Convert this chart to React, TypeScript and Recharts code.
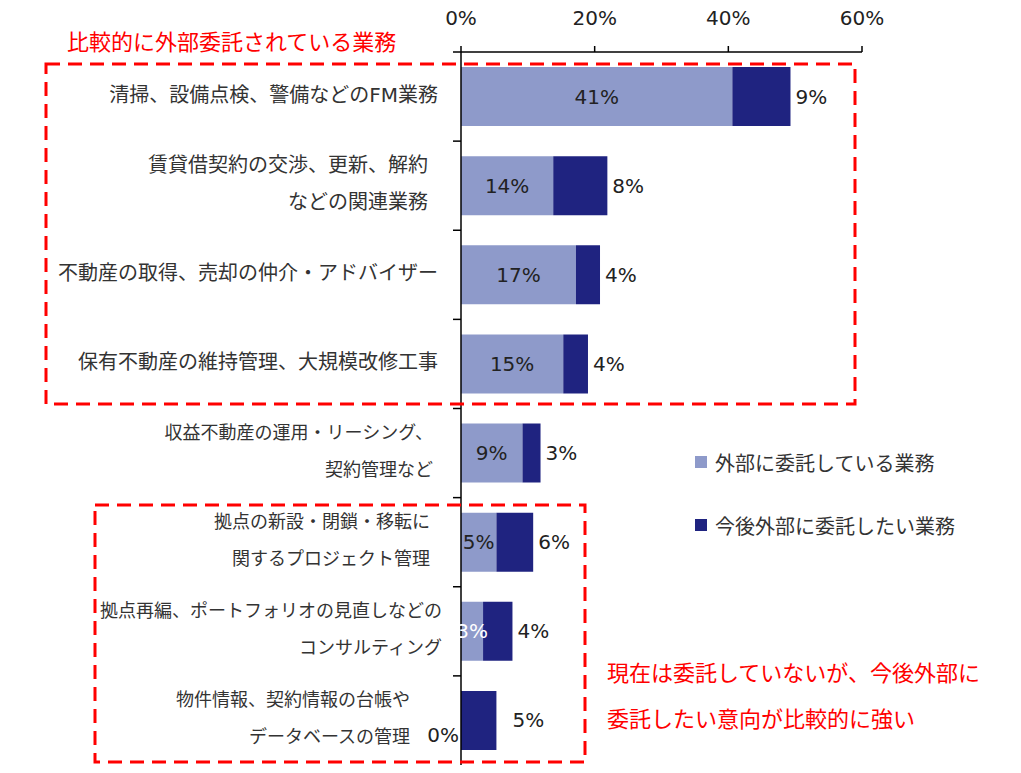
import React from "react";
import { BarChart, Bar, XAxis, YAxis, LabelList } from "recharts";

// row labels (line breaks as in the original)
const categories: string[][] = [
  ["清掃、設備点検、警備などのFM業務"],
  ["賃貸借契約の交渉、更新、解約", "などの関連業務"],
  ["不動産の取得、売却の仲介・アドバイザー"],
  ["保有不動産の維持管理、大規模改修工事"],
  ["収益不動産の運用・リーシング、", "契約管理など"],
  ["拠点の新設・閉鎖・移転に", "関するプロジェクト管理"],
  ["拠点再編、ポートフォリオの見直しなどの", "コンサルティング"],
  ["物件情報、契約情報の台帳や", "データベースの管理"],
];

const outsourcedNow = [40.6, 13.8, 17.2, 15.3, 9.2, 5.3, 3.3, 0];
const outsourceFuture = [8.7, 8.1, 3.6, 3.7, 2.7, 5.5, 4.4, 5.3];

const xTicks = [0, 20, 40, 60];
const seriesNames = ["外部に委託している業務", "今後外部に委託したい業務"];

const LIGHT = "#8E9ACA";
const DARK = "#1F2380";
const RED = "#FF0000";
const FONT = "'DejaVu Sans', 'Noto Sans CJK JP', sans-serif";

// distance of each label's right edge from the axis (as set in the original)
const labelInset = [23, 33, 23, 23, 28, 31, 19, 51];

const data = categories.map((lines, i) => ({
  name: lines.join(""),
  now: outsourcedNow[i],
  future: outsourceFuture[i],
}));

// category label + a small tick on the upper band boundary
function CategoryTick(props: any) {
  const { x, y, payload, index } = props;
  const half = payload.offset ?? 0;
  const lines = categories[index];
  const by = y - half;
  const fs = index < 4 ? 20 : 18;
  const tx = x - labelInset[index];
  return (
    <g>
      <line x1={x - 8} x2={x} y1={by} y2={by} stroke="#000" strokeWidth={1.5} />
      {lines.length === 1 ? (
        <text x={tx} y={y - 2} textAnchor="end" dominantBaseline="central" fontSize={fs} fill="#333" fontFamily={FONT}>
          {lines[0]}
        </text>
      ) : (
        <text textAnchor="end" dominantBaseline="central" fontSize={fs} fill="#333" fontFamily={FONT}>
          <tspan x={tx} y={y - 21}>{lines[0]}</tspan>
          <tspan x={tx} y={y + 16}>{lines[1]}</tspan>
        </text>
      )}
    </g>
  );
}

function NowLabel(props: any) {
  const { x, y, width, height } = props.viewBox ?? props;
  const { value, index } = props;
  if (!value) return null;
  return (
    <text
      x={x + width / 2}
      y={y + height / 2}
      textAnchor="middle"
      dominantBaseline="central"
      fontSize={20}
      fill={index === 6 ? "#fff" : "#222"}
      fontFamily={FONT}
    >
      {Math.round(value)}%
    </text>
  );
}

function FutureLabel(props: any) {
  const { x, y, width, height } = props.viewBox ?? props;
  const { value, index } = props;
  const gap = index === categories.length - 1 ? 16 : 5;
  return (
    <g>
      {outsourcedNow[index] === 0 && (
        // the zero-width "now" bar gets its label left of the axis
        <text x={x - 2} y={y + height / 2 + 15} textAnchor="end" dominantBaseline="central" fontSize={20} fill="#222" fontFamily={FONT}>
          0%
        </text>
      )}
      <text x={x + width + gap} y={y + height / 2} textAnchor="start" dominantBaseline="central" fontSize={20} fill="#222" fontFamily={FONT}>
        {Math.round(value)}%
      </text>
    </g>
  );
}

export default function App() {
  return (
    <div style={{ position: "absolute", left: 0, top: 0, width: 1021, height: 773, background: "#fff", fontFamily: FONT }}>
      <BarChart
        width={1021}
        height={773}
        data={data}
        layout="vertical"
        margin={{ top: 0, right: 159, left: 0, bottom: 8 }}
      >
        <XAxis
          type="number"
          orientation="top"
          domain={[0, 60]}
          ticks={xTicks}
          tickFormatter={(v) => `${v}%`}
          height={52}
          tickSize={6}
          tickMargin={21}
          axisLine={{ stroke: "#000", strokeWidth: 1.5 }}
          tickLine={{ stroke: "#000", strokeWidth: 1.5 }}
          tick={{ fontSize: 20, fill: "#222", fontFamily: FONT }}
        />
        <YAxis
          type="category"
          dataKey="name"
          interval={0}
          width={461}
          tickSize={0}
          tickMargin={0}
          tickLine={false}
          axisLine={{ stroke: "#000", strokeWidth: 1.5 }}
          tick={<CategoryTick />}
        />
        <Bar dataKey="now" name={seriesNames[0]} stackId="a" fill={LIGHT} barSize={59} isAnimationActive={false}>
          <LabelList dataKey="now" content={<NowLabel />} />
        </Bar>
        <Bar dataKey="future" name={seriesNames[1]} stackId="a" fill={DARK} barSize={59} isAnimationActive={false}>
          <LabelList dataKey="future" content={<FutureLabel />} />
        </Bar>
      </BarChart>

      {/* legend */}
      <div style={{ position: "absolute", left: 695, top: 449, fontSize: 20, color: "#333" }}>
        {seriesNames.map((n, i) => (
          <div key={n} style={{ display: "flex", alignItems: "center", height: 26, marginBottom: 37 }}>
            <span style={{ width: 12, height: 12, background: i === 0 ? LIGHT : DARK, marginRight: 8, display: "inline-block" }} />
            <span>{n}</span>
          </div>
        ))}
      </div>

      {/* annotations */}
      <svg width={1021} height={773} style={{ position: "absolute", left: 0, top: 0, pointerEvents: "none" }}>
        <rect x={46} y={64} width={809} height={340} fill="none" stroke={RED} strokeWidth={3} strokeDasharray="14 8" />
        <rect x={95} y={505} width={490} height={257} fill="none" stroke={RED} strokeWidth={3} strokeDasharray="14 8" />
        <text x={67} y={42} dominantBaseline="central" fontSize={22} fill={RED} fontFamily={FONT}>
          比較的に外部委託されている業務
        </text>
        <text x={607} y={673} dominantBaseline="central" fontSize={22} fill={RED} fontFamily={FONT}>
          現在は委託していないが、今後外部に
        </text>
        <text x={607} y={719} dominantBaseline="central" fontSize={22} fill={RED} fontFamily={FONT}>
          委託したい意向が比較的に強い
        </text>
      </svg>
    </div>
  );
}
